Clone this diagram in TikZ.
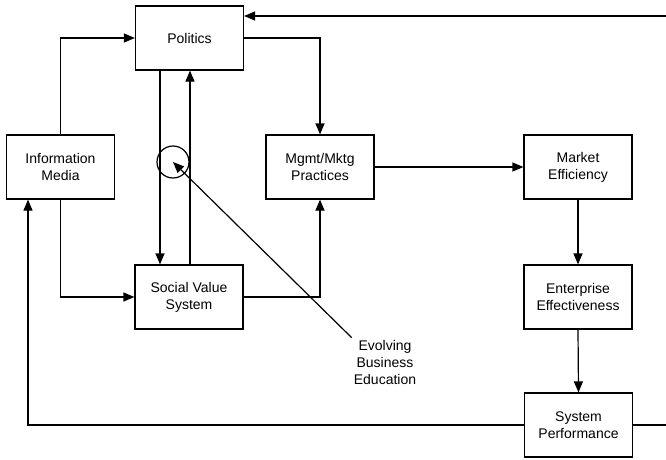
\documentclass[tikz,border=0pt]{standalone}
\usepackage{fontspec}
\setmainfont{Liberation Sans}
\usetikzlibrary{arrows.meta}
\begin{document}
\begin{tikzpicture}[x=1pt,y=-1pt,
  every node/.style={font=\fontsize{14}{17}\selectfont},
  blk/.style={draw, line width=1.2pt, minimum width=108pt, minimum height=64pt, align=center, inner sep=2pt},
  wire/.style={line width=1.2pt},
  arr/.style={wire, -{Triangle[length=11pt,width=9pt]}}]
\useasboundingbox (0,0) rectangle (666,460);

% boxes
\node[blk] (pol) at (189.5,38)  {Politics};
\node[blk] (info) at (60.5,167) {Information\\Media};
\node[blk] (mgmt) at (320,167)  {Mgmt/Mktg\\Practices};
\node[blk] (mkt) at (578,167)   {Market\\Efficiency};
\node[blk] (soc) at (189,297)   {Social Value\\System};
\node[blk] (ent) at (578,297)   {Enterprise\\Effectiveness};
\node[blk] (sp) at (578.5,425)  {System\\Performance};

% education marker and its label
\node[circle, draw, line width=1.2pt, minimum size=32pt, inner sep=0pt] (ring) at (173,162) {};
\node[align=center, inner sep=2pt] (ebe) at (385,362) {Evolving\\Business\\Education};

% feedback loop ends leaving the frame on the right
\coordinate (r1) at (668,425);
\coordinate (r2) at (668,16);

% connectors
\draw[arr] (info.north) |- (pol.west);
\draw[arr] (info.south) |- (soc.west);
\draw[arr] ([xshift=-29.5pt]pol.south) -- ([xshift=-29pt]soc.north);
\draw[arr] ([xshift=1pt]soc.north) -- ([xshift=0.5pt]pol.south);
\draw[arr] (pol.east) -| (mgmt.north);
\draw[arr] (soc.east) -| (mgmt.south);
\draw[arr] (mgmt.east) -- (mkt.west);
\draw[arr] (mkt.south) -- (ent.north);
\draw[arr] (ent.south) -- (sp.north);
\draw[arr] (sp.west) -| ([xshift=-32.5pt]info.south);
\draw[wire] (sp.east) -- (r1);
\draw[arr] (r2) -- (r2 -| pol.east);
\draw[arr] (ebe.north west) -- (ring.center);
\end{tikzpicture}
\end{document}
